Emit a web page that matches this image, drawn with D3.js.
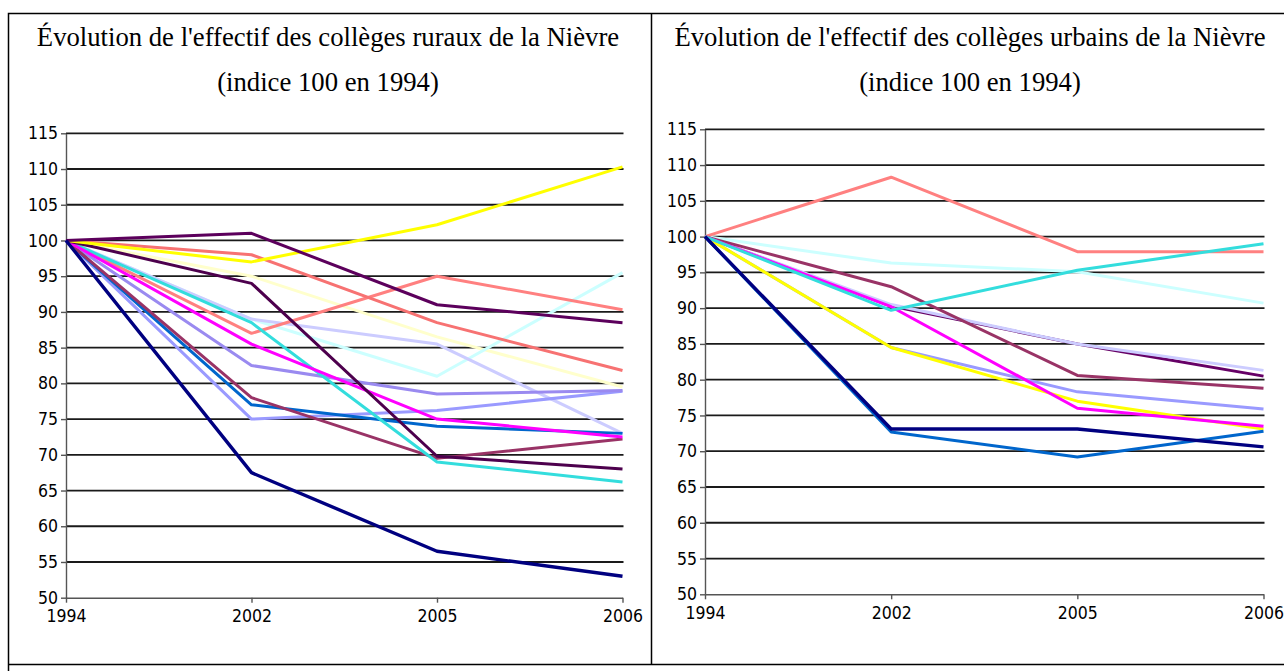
<!DOCTYPE html>
<html>
<head>
<meta charset="utf-8">
<script src="https://cdn.jsdelivr.net/npm/d3@7"></script>
<style>
body { margin: 0; background: #fff; }
svg { display: block; }
.title { font-family: "Liberation Serif", "Times New Roman", serif; font-size: 26.7px; fill: #000; }
.axis text { font-family: "DejaVu Sans Condensed", "DejaVu Sans", sans-serif; font-stretch: condensed; font-size: 17.5px; fill: #000; }
.axis line, .axis path { stroke: #555; stroke-width: 1.4; }
</style>
</head>
<body>
<svg id="page" width="1284" height="671"></svg>
<script>
const years = ["1994", "2002", "2005", "2006"];
const yTicks = [50, 55, 60, 65, 70, 75, 80, 85, 90, 95, 100, 105, 110, 115];

// collèges ruraux (indice 100 en 1994)
const ruralValues = [
	[100, 95, 86.5, 79.5],
	[100, 89, 81, 95.5],
	[100, 89, 85.5, 73],
	[100, 87, 95, 90.3],
	[100, 98, 88.5, 81.8],
	[100, 75, 76.2, 78.9],
	[100, 82.5, 78.5, 79],
	[100, 77, 74, 73],
	[100, 78, 69.5, 72.2],
	[100, 88.5, 69, 66.2],
	[100, 85.5, 75, 72.5],
	[100, 94, 69.8, 68],
	[100, 97, 102.2, 110.3],
	[100, 101, 91, 88.5],
	[100, 67.5, 56.5, 53]
];
const ruralColors = [
	"#ffffcc", "#ccffff", "#ccccff", "#ff8080", "#f77272", "#9a9aff", "#9a8af0",
	"#0066cc", "#993366", "#33dddd", "#ff00ff", "#4d004d", "#ffff00", "#5c005c", "#000080"
];

// collèges urbains (indice 100 en 1994)
const urbanValues = [
	[100, 96.3, 95.1, 90.7],
	[100, 90.3, 85, 80.5],
	[100, 90.5, 85, 81.3],
	[100, 108.3, 97.9, 97.9],
	[100, 93, 80.6, 78.8],
	[100, 84.5, 78.3, 75.9],
	[100, 84.5, 77, 73.1],
	[100, 90.2, 76, 73.5],
	[100, 89.7, 95.3, 99],
	[100, 72.7, 69.2, 72.8],
	[100, 73.1, 73.1, 70.6]
];
const urbanColors = [
	"#ccffff", "#660066", "#ccccff", "#ff8080", "#993366", "#9a9aff",
	"#ffff00", "#ff00ff", "#33dddd", "#0066cc", "#000080"
];

const svg = d3.select("#page");

// table borders
svg.append("path")
	.attr("d", "M8.5,671 V13.5 H1284 M651.5,13.5 V664.5 M8.5,664.5 H1284")
	.attr("fill", "none")
	.attr("stroke", "#000")
	.attr("stroke-width", 1.5);

const drawTitle = (cx, text) => {
	svg.append("text").attr("class", "title").attr("x", cx).attr("y", 46)
		.attr("text-anchor", "middle").text(text);
	svg.append("text").attr("class", "title").attr("x", cx).attr("y", 91)
		.attr("text-anchor", "middle").text("(indice 100 en 1994)");
};

const drawChart = (opts) => {
	const x = d3.scalePoint().domain(years).range([opts.x0, opts.x1]);
	const y = d3.scaleLinear().domain([50, 115]).range([opts.yBottom, opts.yTop]);
	const g = svg.append("g");

	g.append("g")
		.selectAll("line")
		.data(yTicks.filter(d => d > 50))
		.join("line")
		.attr("x1", opts.x0)
		.attr("x2", opts.x1 + 1)
		.attr("y1", d => y(d))
		.attr("y2", d => y(d))
		.attr("stroke", "#1a1a1a")
		.attr("stroke-width", 1.8);

	g.append("g")
		.attr("class", "axis")
		.attr("transform", `translate(${opts.x0},0)`)
		.call(d3.axisLeft(y).tickValues(yTicks).tickSize(5).tickSizeOuter(0).tickPadding(3));

	g.append("g")
		.attr("class", "axis")
		.attr("transform", `translate(0,${y(50)})`)
		.call(d3.axisBottom(x).tickSize(5).tickSizeOuter(0).tickPadding(7));

	const line = d3.line()
		.x((d, i) => x(years[i]))
		.y(d => y(d));

	g.append("g")
		.selectAll("path")
		.data(opts.values)
		.join("path")
		.attr("d", line)
		.attr("fill", "none")
		.attr("stroke", (d, i) => opts.colors[i])
		.attr("stroke-width", (d, i) => opts.colors[i] === "#000080" ? 3.4 : 3)
		.attr("stroke-linejoin", "round");
};

drawTitle(328, "Évolution de l'effectif des collèges ruraux de la Nièvre");
drawTitle(970, "Évolution de l'effectif des collèges urbains de la Nièvre");

drawChart({x0: 66, x1: 622.5, yTop: 133.3, yBottom: 597.7, values: ruralValues, colors: ruralColors});
drawChart({x0: 705, x1: 1263.5, yTop: 129.3, yBottom: 594.3, values: urbanValues, colors: urbanColors});
</script>
</body>
</html>
